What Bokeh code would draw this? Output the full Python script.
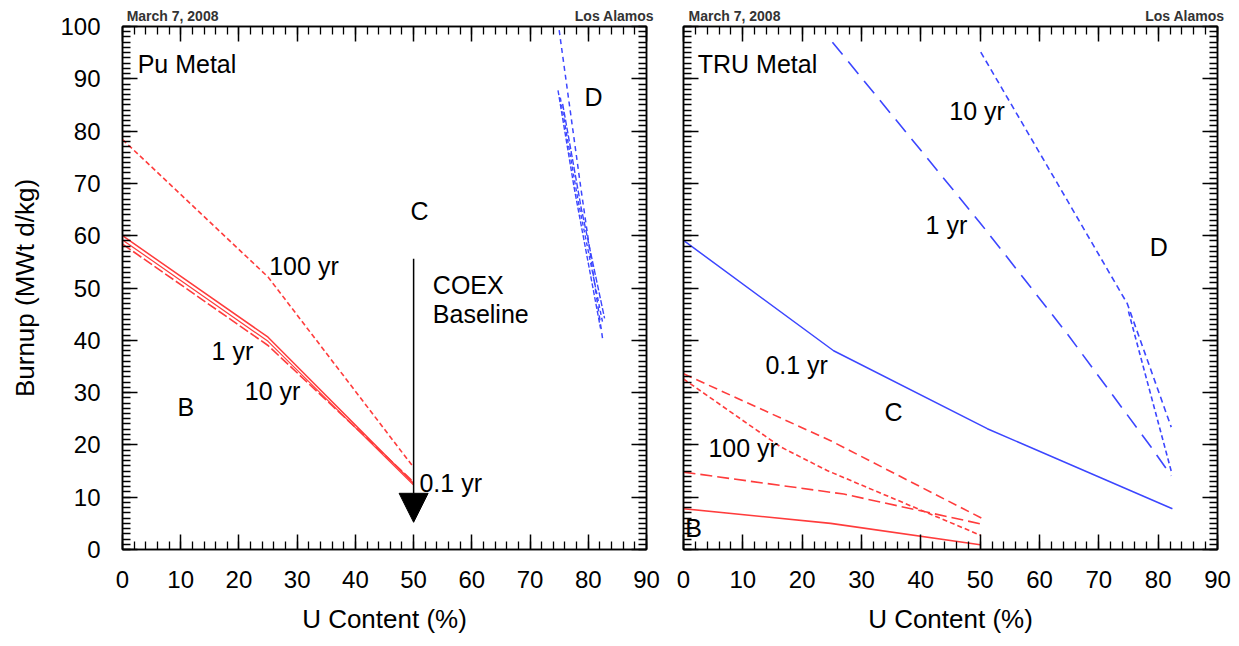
from bokeh.plotting import figure
from bokeh.models import (Range1d, SingleIntervalTicker, FixedTicker, LinearAxis, Arrow,
                          NormalHead, CustomJSTickFormatter, ColumnDataSource)
from bokeh.layouts import row
from bokeh.embed import file_html
from bokeh.resources import INLINE
from bokeh.core.properties import value

RED = "#ff3c3c"
BLUE = "#3c46ff"
FONT = "Liberation Sans"

# ---------------- data: Pu Metal panel ----------------
pu_01_x = [0, 25, 50]
pu_01_y = [60.0, 40.6, 12.6]
pu_1_x = [0, 25, 50]
pu_1_y = [59.2, 39.8, 12.3]
pu_10_x = [0, 25, 50]
pu_10_y = [58.4, 39.0, 12.9]
pu_100_x = [0, 25, 50]
pu_100_y = [78.4, 52.1, 15.7]
pu_d_dot_x = [75.0, 78.7, 82.5]
pu_d_dot_y = [99.3, 69.3, 40.0]
pu_d_a_x = [74.8, 77.6, 82.1]
pu_d_a_y = [87.8, 69.0, 42.3]
pu_d_b_x = [75.2, 78.2, 82.5]
pu_d_b_y = [86.4, 67.0, 43.2]
pu_d_c_x = [75.6, 78.8, 82.8]
pu_d_c_y = [85.2, 65.2, 44.2]

coex_x = 50
coex_top = 55.6
coex_tip = 5.2

pu_text = ["Pu Metal", "D", "C", "COEX", "Baseline", "100 yr", "1 yr", "10 yr", "B", "0.1 yr"]
pu_tx = [2.6, 80.9, 51.0, 53.3, 53.3, 25.2, 15.3, 21.0, 10.9, 51.0]
pu_ty = [92.9, 86.6, 64.8, 50.5, 45.1, 54.2, 38.0, 30.4, 27.2, 12.8]
pu_ta = ["left", "center", "center", "left", "left", "left", "left", "left", "center", "left"]

# ---------------- data: TRU Metal panel ----------------
tru_01_x = [0, 25.3, 51.2, 82.4]
tru_01_y = [59.1, 38.0, 23.1, 7.8]
tru_1_x = [25.1, 50.1, 64.7, 78.8, 82.2]
tru_1_y = [97.0, 62.3, 41.2, 19.6, 14.1]
tru_10a_x = [50.1, 62.4, 74.8, 82.2]
tru_10a_y = [95.1, 71.2, 47.0, 23.4]
tru_10b_x = [75.0, 82.2]
tru_10b_y = [45.5, 15.0]
tru_r_dash_x = [0, 24.8, 50.4]
tru_r_dash_y = [33.6, 20.8, 5.9]
tru_r_dot_x = [0, 16.4, 24.2, 50.1]
tru_r_dot_y = [32.6, 19.6, 15.1, 2.7]
tru_r_long_x = [0, 27.0, 50.1]
tru_r_long_y = [14.8, 10.6, 4.9]
tru_r_solid_x = [0, 24.8, 50.0]
tru_r_solid_y = [7.8, 5.0, 0.9]

tru_text = ["TRU Metal", "10 yr", "1 yr", "D", "0.1 yr", "C", "100 yr", "B"]
tru_tx = [2.4, 44.8, 40.8, 80.1, 13.8, 35.4, 4.2, 0.3]
tru_ty = [92.9, 83.9, 62.0, 57.9, 35.2, 26.3, 19.5, 4.2]
tru_ta = ["left", "left", "left", "center", "left", "center", "left", "left"]

x_label = "U Content (%)"
y_label = "Burnup (MWt d/kg)"
header_pos = [8.6, 84.5]
header_text = ["March 7, 2008", "Los Alamos"]

H = 642


def style_axis(ax, major_len=15, minor_len=8):
    ax.axis_line_color = "black"
    ax.axis_line_width = 1.5
    ax.major_tick_in = major_len
    ax.major_tick_out = 0
    ax.minor_tick_in = minor_len
    ax.minor_tick_out = 0
    ax.major_tick_line_color = "black"
    ax.minor_tick_line_color = "black"
    ax.major_tick_line_width = 1.5
    ax.minor_tick_line_width = 1.3
    ax.major_label_text_font = FONT
    ax.major_label_text_font_size = "24px"
    ax.major_label_text_color = "black"
    ax.axis_label_text_font = FONT
    ax.axis_label_text_font_size = "26px"
    ax.axis_label_text_font_style = "normal"
    ax.axis_label_text_color = "black"


def blank_axis(ticker):
    ax = LinearAxis(ticker=ticker, formatter=CustomJSTickFormatter(code="return ''"))
    style_axis(ax)
    ax.major_label_text_font_size = "1px"
    ax.major_label_standoff = 0
    return ax


def header_axis():
    code = "return tick < 50 ? '%s' : '%s';" % (header_text[0], header_text[1])
    ax = LinearAxis(ticker=FixedTicker(ticks=header_pos, minor_ticks=[]),
                    formatter=CustomJSTickFormatter(code=code))
    ax.axis_line_color = None
    ax.major_tick_line_color = None
    ax.minor_tick_line_color = None
    ax.major_tick_in = 0
    ax.major_tick_out = 0
    ax.major_label_standoff = 3
    ax.major_label_text_font = FONT
    ax.major_label_text_font_size = "14px"
    ax.major_label_text_font_style = "bold"
    ax.major_label_text_color = "#333333"
    return ax


def make_fig(width, mbl, mbr, show_y_labels):
    p = figure(width=width, height=H, x_range=Range1d(0, 90), y_range=Range1d(0, 100),
               output_backend="svg", toolbar_location=None,
               min_border_left=mbl, min_border_right=mbr,
               min_border_top=26, min_border_bottom=H - 26 - 523)
    p.grid.visible = False
    p.outline_line_color = "black"
    p.outline_line_width = 1.5
    p.background_fill_color = "white"
    p.border_fill_color = "white"
    xa = p.xaxis[0]
    ya = p.yaxis[0]
    xa.ticker = SingleIntervalTicker(interval=10, num_minor_ticks=5)
    ya.ticker = SingleIntervalTicker(interval=10, num_minor_ticks=10)
    style_axis(xa)
    style_axis(ya)
    xa.axis_label = x_label
    xa.major_label_standoff = 21
    xa.axis_label_standoff = 13
    if show_y_labels:
        ya.axis_label = y_label
        ya.major_label_standoff = 22
        ya.axis_label_standoff = 17
    else:
        ya.formatter = CustomJSTickFormatter(code="return ''")
        ya.major_label_text_font_size = "1px"
        ya.major_label_standoff = 0
    p.add_layout(blank_axis(SingleIntervalTicker(interval=10, num_minor_ticks=5)), "above")
    p.add_layout(header_axis(), "above")
    p.add_layout(blank_axis(SingleIntervalTicker(interval=10, num_minor_ticks=10)), "right")
    return p


# ---------------- left panel ----------------
p1 = make_fig(662, 122, 16, True)
p1.line(pu_100_x, pu_100_y, line_color=RED, line_width=1.6, line_dash="5 3")
p1.line(pu_10_x, pu_10_y, line_color=RED, line_width=1.6, line_dash="10 3")
p1.line(pu_1_x, pu_1_y, line_color=RED, line_width=1.2)
p1.line(pu_01_x, pu_01_y, line_color=RED, line_width=1.5)
p1.line(pu_d_dot_x, pu_d_dot_y, line_color=BLUE, line_width=1.5, line_dash="5 4")
p1.line(pu_d_a_x, pu_d_a_y, line_color=BLUE, line_width=1.4, line_dash="5 2")
p1.line(pu_d_b_x, pu_d_b_y, line_color=BLUE, line_width=1.4, line_dash="4 3")
p1.line(pu_d_c_x, pu_d_c_y, line_color=BLUE, line_width=1.4, line_dash="6 2")
p1.add_layout(Arrow(end=NormalHead(size=29, fill_color="black", line_color="black"),
                    x_start=coex_x, y_start=coex_top, x_end=coex_x, y_end=coex_tip,
                    line_color="black", line_width=1.5))
src1 = ColumnDataSource(dict(x=pu_tx, y=pu_ty, text=pu_text, align=pu_ta))
p1.text(x="x", y="y", text="text", text_align="align", source=src1,
        text_font=value(FONT), text_font_size="25px", text_baseline="middle",
        text_color="black")

# ---------------- right panel ----------------
p2 = make_fig(571, 21, 16, False)
p2.line(tru_r_solid_x, tru_r_solid_y, line_color=RED, line_width=1.6)
p2.line(tru_r_long_x, tru_r_long_y, line_color=RED, line_width=1.6, line_dash="12 5")
p2.line(tru_r_dot_x, tru_r_dot_y, line_color=RED, line_width=1.6, line_dash="5 3")
p2.line(tru_r_dash_x, tru_r_dash_y, line_color=RED, line_width=1.6, line_dash="9 5")
p2.line(tru_01_x, tru_01_y, line_color=BLUE, line_width=1.5)
p2.line(tru_1_x, tru_1_y, line_color=BLUE, line_width=1.6, line_dash="16 9")
p2.line(tru_10a_x, tru_10a_y, line_color=BLUE, line_width=1.6, line_dash="6 4")
p2.line(tru_10b_x, tru_10b_y, line_color=BLUE, line_width=1.6, line_dash="5 3")
src2 = ColumnDataSource(dict(x=tru_tx, y=tru_ty, text=tru_text, align=tru_ta))
p2.text(x="x", y="y", text="text", text_align="align", source=src2,
        text_font=value(FONT), text_font_size="25px", text_baseline="middle",
        text_color="black")

layout = row(p1, p2)
open("out.html", "w").write(file_html(layout, INLINE))
